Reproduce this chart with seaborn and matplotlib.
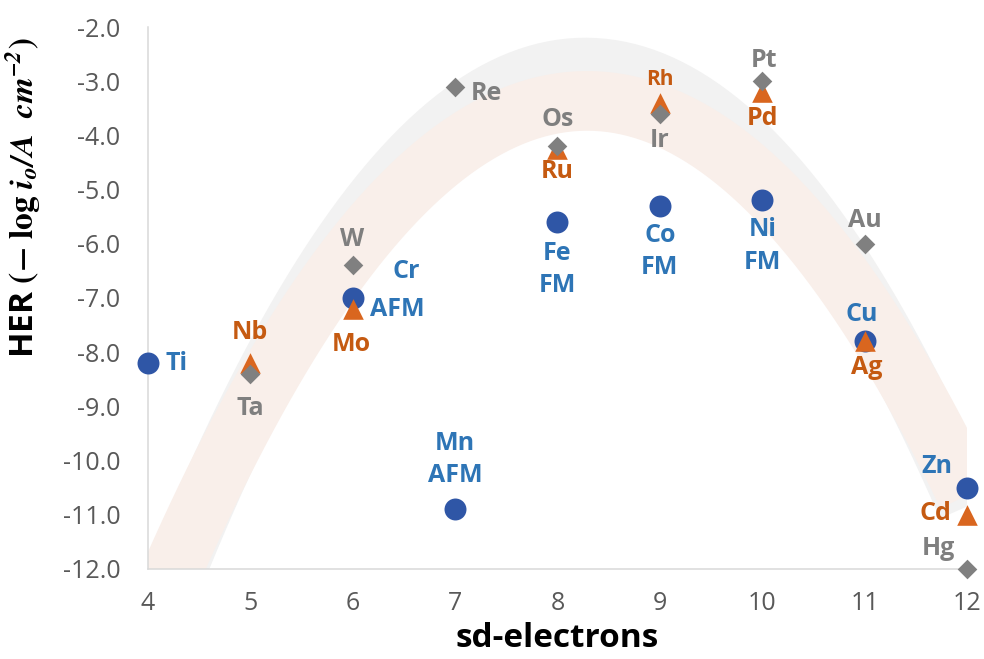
import pandas as pd
import matplotlib
matplotlib.use("Agg")
import matplotlib.pyplot as plt
import seaborn as sns
from matplotlib.ticker import FuncFormatter, MultipleLocator

# 3d metals (blue circles)
d3_names = ["Ti", "Cr", "Mn", "Fe", "Co", "Ni", "Cu", "Zn"]
d3_x = [4, 6, 7, 8, 9, 10, 11, 12]
d3_y = [-8.2, -7.0, -10.9, -5.6, -5.3, -5.2, -7.8, -10.5]

# 4d metals (orange triangles)
d4_names = ["Nb", "Mo", "Ru", "Rh", "Pd", "Ag", "Cd"]
d4_x = [5, 6, 8, 9, 10, 11, 12]
d4_y = [-8.2, -7.2, -4.25, -3.4, -3.2, -7.8, -11.0]

# 5d metals (grey diamonds)
d5_names = ["Ta", "W", "Re", "Os", "Ir", "Pt", "Au", "Hg"]
d5_x = [5, 6, 7, 8, 9, 10, 11, 12]
d5_y = [-8.4, -6.4, -3.1, -4.2, -3.6, -3.0, -6.0, -12.0]

# magnetic ordering written under some of the 3d labels
magnetic = {"Cr": "AFM", "Mn": "AFM", "Fe": "FM", "Co": "FM", "Ni": "FM"}

d3 = pd.DataFrame({"name": d3_names, "sd": d3_x, "her": d3_y})
d4 = pd.DataFrame({"name": d4_names, "sd": d4_x, "her": d4_y})
d5 = pd.DataFrame({"name": d5_names, "sd": d5_x, "her": d5_y})

sns.set_style("white")
plt.rcParams["font.family"] = ["Open Sans", "DejaVu Sans"]
plt.rcParams["mathtext.fontset"] = "stix"

fig = plt.figure(figsize=(9.84, 6.59), dpi=100)
ax = fig.add_axes([0.150, 0.1366, 0.833, 0.8224])
ax.set_xlim(4, 12)
ax.set_ylim(-12, -2)

# wide quadratic trend bands (Excel style)
sns.regplot(data=d5, x="sd", y="her", order=2, ci=None, scatter=False,
            truncate=False, ax=ax,
            line_kws=dict(color="#f2f2f2", lw=43, solid_capstyle="butt", zorder=1))
sns.regplot(data=d4, x="sd", y="her", order=2, ci=None, scatter=False,
            truncate=False, ax=ax,
            line_kws=dict(color="#f9efea", lw=43, solid_capstyle="butt", zorder=1.1))

blue, orange, grey = "#2f56a6", "#d9661f", "#808080"
blue_txt, orange_txt, grey_txt = "#2e75b6", "#c55a11", "#7f7f7f"

sns.scatterplot(data=d3, x="sd", y="her", marker="o", s=250, color=blue,
                linewidth=0, ax=ax, zorder=3)
sns.scatterplot(data=d4, x="sd", y="her", marker="^", s=220, color=orange,
                linewidth=0, ax=ax, zorder=4)
sns.scatterplot(data=d5, x="sd", y="her", marker="D", s=100, color=grey,
                linewidth=0, ax=ax, zorder=5)
for c in ax.collections:
    c.set_clip_on(False)

# label offsets in points from the marker
offsets = {
    "Ti": (21, 0), "Cr": (39, 19), "Mn": (0, 36), "Fe": (0, -34),
    "Co": (0, -33), "Ni": (0, -33), "Cu": (-2, 19), "Zn": (-22, 15),
    "Nb": (0, 22), "Mo": (-1, -26), "Ru": (0, -16), "Rh": (0, 17),
    "Pd": (0, -19), "Ag": (1, -19), "Cd": (-23, 1),
    "Ta": (0, -25), "W": (0, 19), "Re": (23, -5), "Os": (0, 19),
    "Ir": (0, -19), "Pt": (1, 15), "Au": (0, 17), "Hg": (-21, 15),
}

def label(df, color):
    for name, x, y in zip(df["name"], df["sd"], df["her"]):
        txt = name
        if name in magnetic and name != "Cr":
            txt = name + "\n" + magnetic[name]
        size = 15 if name == "Rh" else 18
        ax.annotate(txt, (x, y), xytext=offsets[name], textcoords="offset points",
                    ha="center", va="center", color=color, fontsize=size,
                    fontweight="bold", linespacing=1.4, zorder=6,
                    annotation_clip=False)

label(d3, blue_txt)
label(d4, orange_txt)
label(d5, grey_txt)
ax.annotate(magnetic["Cr"], (d3_x[1], d3_y[1]), xytext=(32, -8),
            textcoords="offset points", ha="center", va="center",
            color=blue_txt, fontsize=18, fontweight="bold", zorder=6)

# axes styling
for side in ["top", "right"]:
    ax.spines[side].set_visible(False)
for side in ["left", "bottom"]:
    ax.spines[side].set_color("#d9d9d9")
    ax.spines[side].set_linewidth(1.1)
ax.xaxis.set_major_locator(MultipleLocator(1))
ax.yaxis.set_major_locator(MultipleLocator(1))
ax.yaxis.set_major_formatter(FuncFormatter(lambda v, p: "{:.1f}".format(v)))
ax.xaxis.set_major_formatter(FuncFormatter(lambda v, p: "{:d}".format(int(round(v)))))
ax.tick_params(axis="both", direction="inout", length=15, width=1.1,
               color="#d9d9d9", labelcolor="#595959", labelsize=18)
ax.tick_params(axis="y", pad=12)
ax.tick_params(axis="x", pad=8)

ax.set_xlabel("sd-electrons", fontsize=24, fontweight="bold", color="black")
ax.set_ylabel(r"HER $\mathbf{(-\ log}\ \mathbfit{i_o/A\ \ cm^{-2}}\mathbf{)}$",
              fontsize=24, fontweight="bold", color="black")
ax.yaxis.set_label_coords(-0.128, 0.685)
ax.xaxis.set_label_coords(0.5, -0.097)

fig.savefig("out.png", dpi=100)
